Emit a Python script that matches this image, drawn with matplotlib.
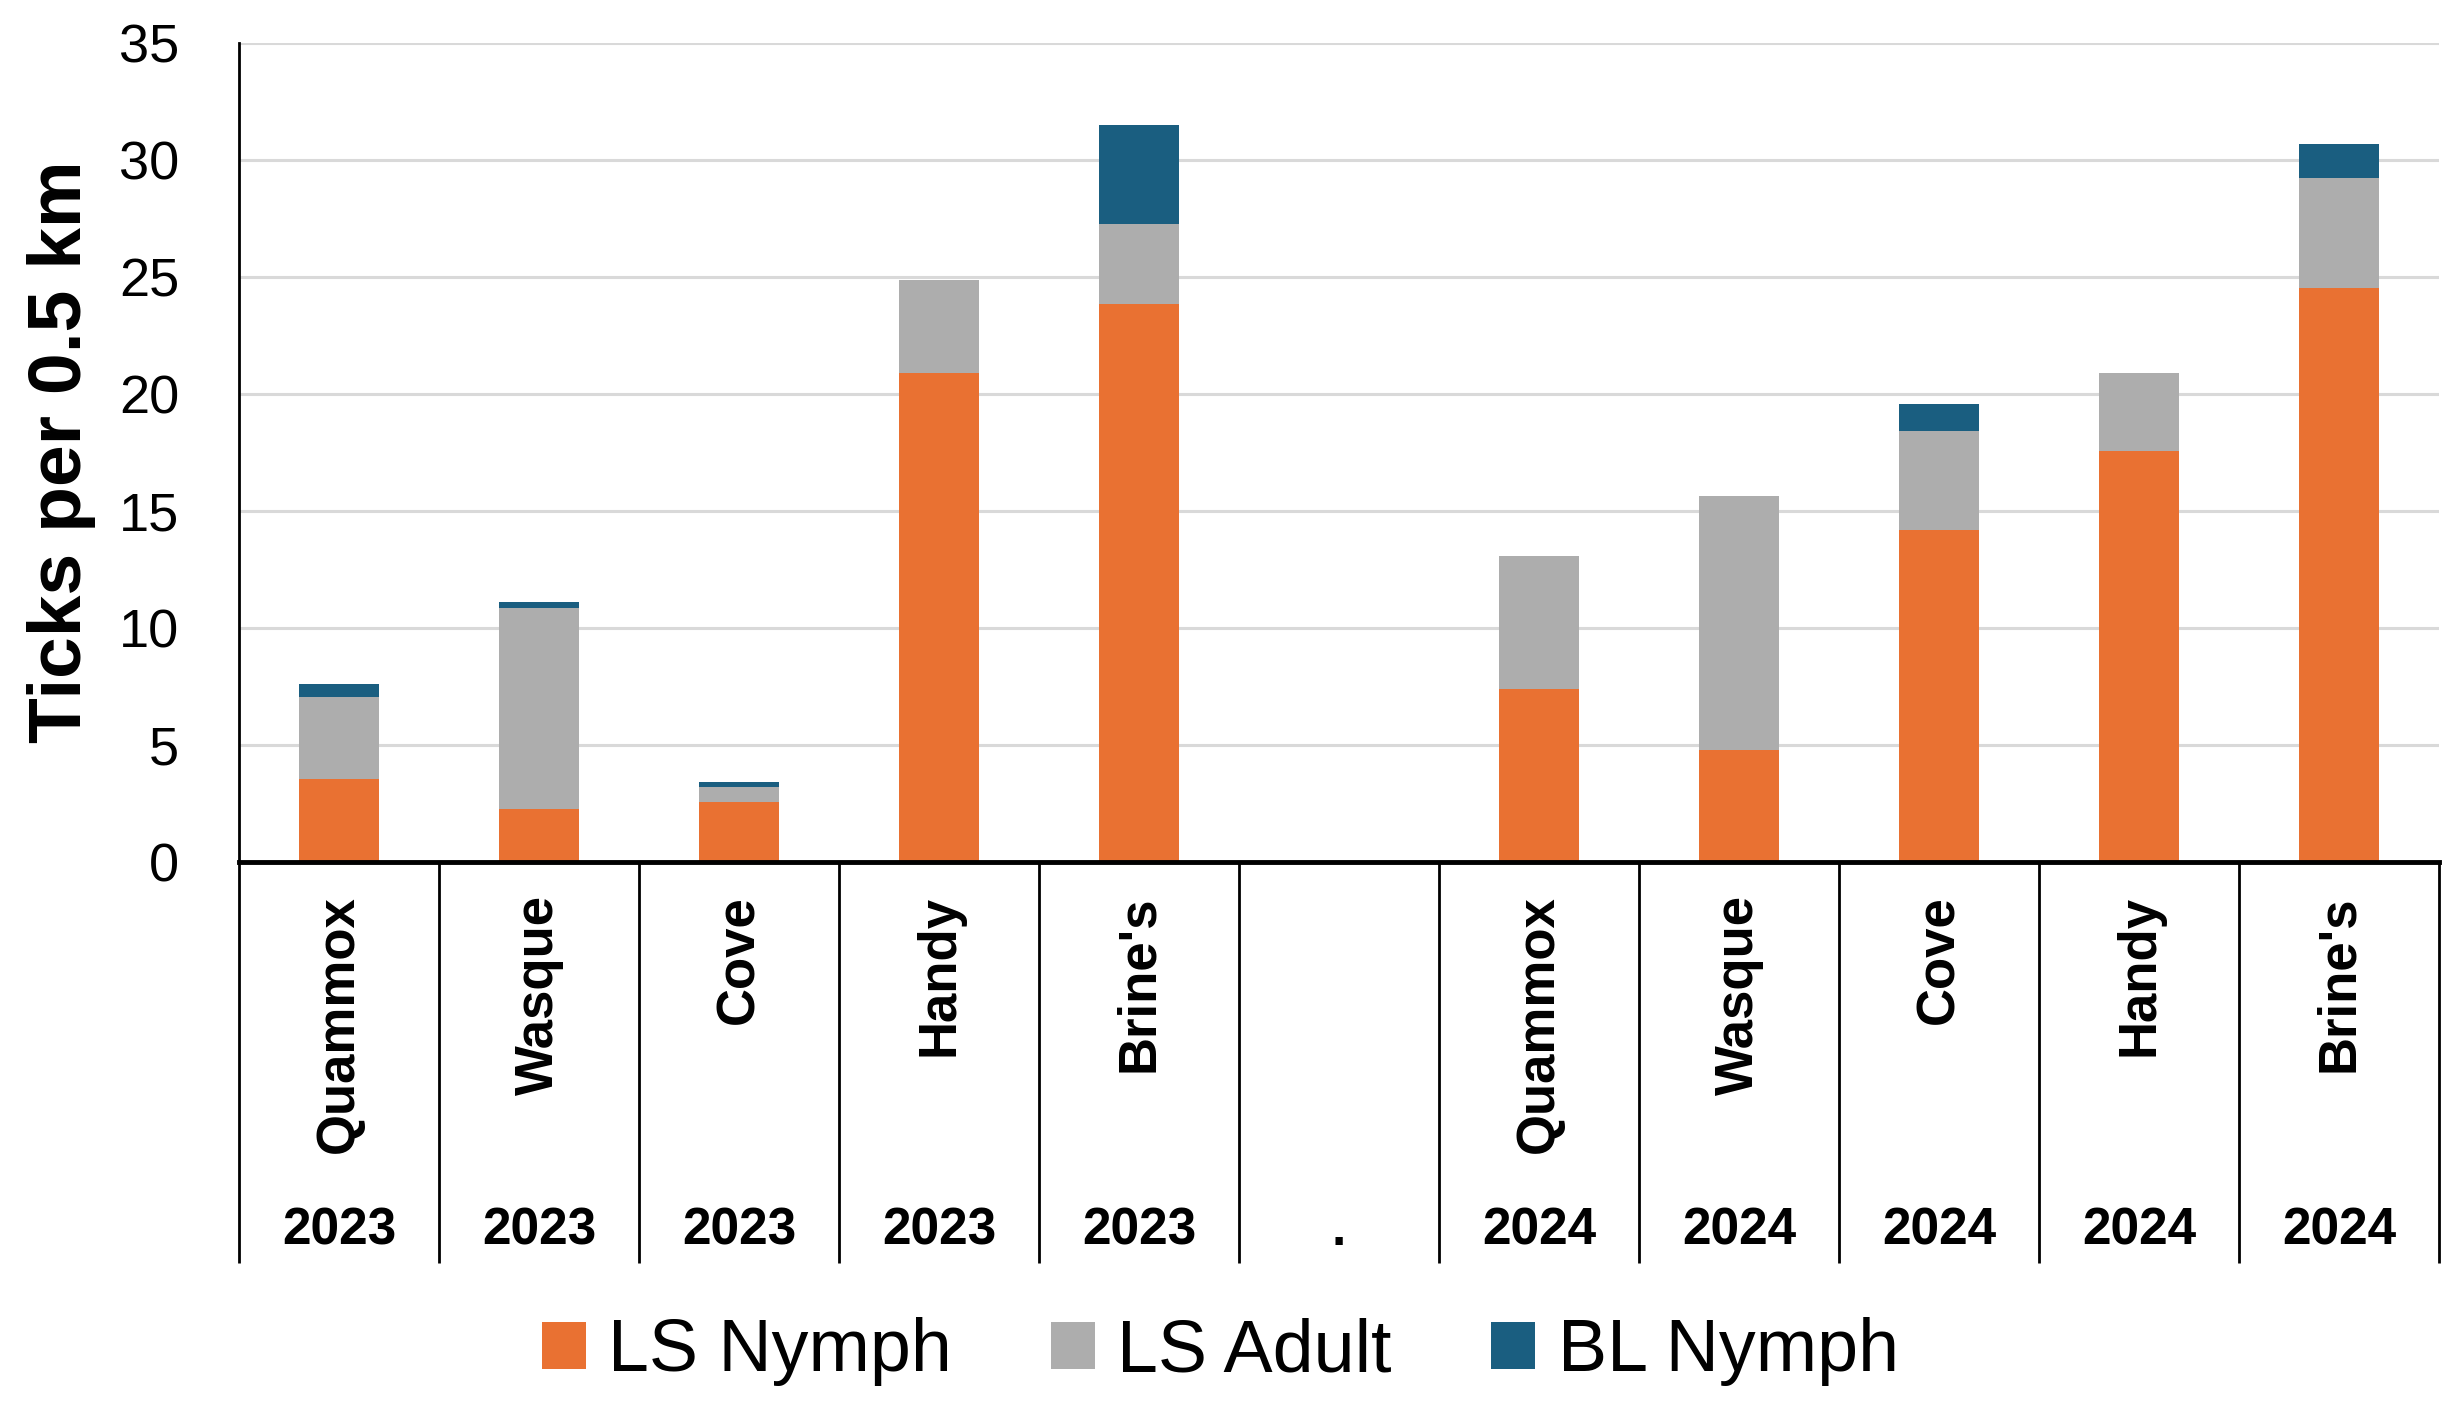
import matplotlib
matplotlib.use("Agg")
import matplotlib.pyplot as plt
import matplotlib.transforms as mtransforms
import numpy as np

sites = ["Quammox", "Wasque", "Cove", "Handy", "Brine's", "",
         "Quammox", "Wasque", "Cove", "Handy", "Brine's"]
years = ["2023", "2023", "2023", "2023", "2023", ".",
         "2024", "2024", "2024", "2024", "2024"]

ls_nymph = [3.55, 2.25, 2.55, 20.9, 23.85, 0, 7.4, 4.8, 14.2, 17.55, 24.5]
ls_adult = [3.5, 8.6, 0.65, 3.95, 3.4, 0, 5.65, 10.85, 4.2, 3.35, 4.7]
bl_nymph = [0.55, 0.25, 0.2, 0, 4.25, 0, 0, 0, 1.15, 0, 1.45]

series_names = ["LS Nymph", "LS Adult", "BL Nymph"]
colors = ["#E97132", "#ADADAD", "#1A5E80"]

plt.rcParams['font.family'] = ['Liberation Sans', 'DejaVu Sans']

fig = plt.figure(figsize=(24.55, 14.08), dpi=100)
ax = fig.add_axes([0.0974, 0.3878, 0.8961, 0.5819])

x = np.arange(len(sites))
w = 0.4
bottom = np.zeros(len(sites))
for vals, name, c in zip([ls_nymph, ls_adult, bl_nymph], series_names, colors):
    ax.bar(x, vals, w, bottom=bottom, color=c, label=name, zorder=3)
    bottom = bottom + np.array(vals)

ax.set_xlim(-0.5, len(sites) - 0.5)
ax.set_ylim(0, 35)
ax.set_yticks(np.arange(0, 36, 5))
ax.tick_params(axis='y', length=0, pad=43, labelsize=39)
ax.grid(axis='y', color='#d9d9d9', linewidth=2.2, zorder=0)
ax.set_axisbelow(True)

for s in ['top', 'right']:
    ax.spines[s].set_visible(False)
ax.spines['left'].set_linewidth(2)
ax.spines['bottom'].set_linewidth(3.5)
ax.spines['bottom'].set_zorder(4)

# separators between categories as long major ticks
ax.set_xticks(np.arange(-0.5, len(sites), 1.0))
ax.set_xticklabels([])
ax.tick_params(axis='x', which='major', direction='out', length=289,
               width=2, color='black')
ax.set_xticks(x, minor=True)
ax.set_xticklabels(sites, minor=True, rotation=90, fontsize=38,
                   fontweight='bold')
ax.tick_params(axis='x', which='minor', length=0, pad=24)

trans = mtransforms.blended_transform_factory(ax.transData, fig.transFigure)
for xi, yr in zip(x, years):
    ax.text(xi, 0.1158, yr, transform=trans, ha='center', va='baseline',
            fontsize=37, fontweight='bold')

fig.text(0.0250, 0.679, "Ticks per 0.5 km", rotation=90, ha='center',
         va='center', fontsize=54, fontweight='bold')

fig.legend(loc='center', bbox_to_anchor=(0.497, 0.0398), ncol=3,
           frameon=False, fontsize=53, handlelength=0.6, handleheight=0.6,
           handletextpad=0.3, columnspacing=1.35)

fig.savefig("out.png", dpi=100)
